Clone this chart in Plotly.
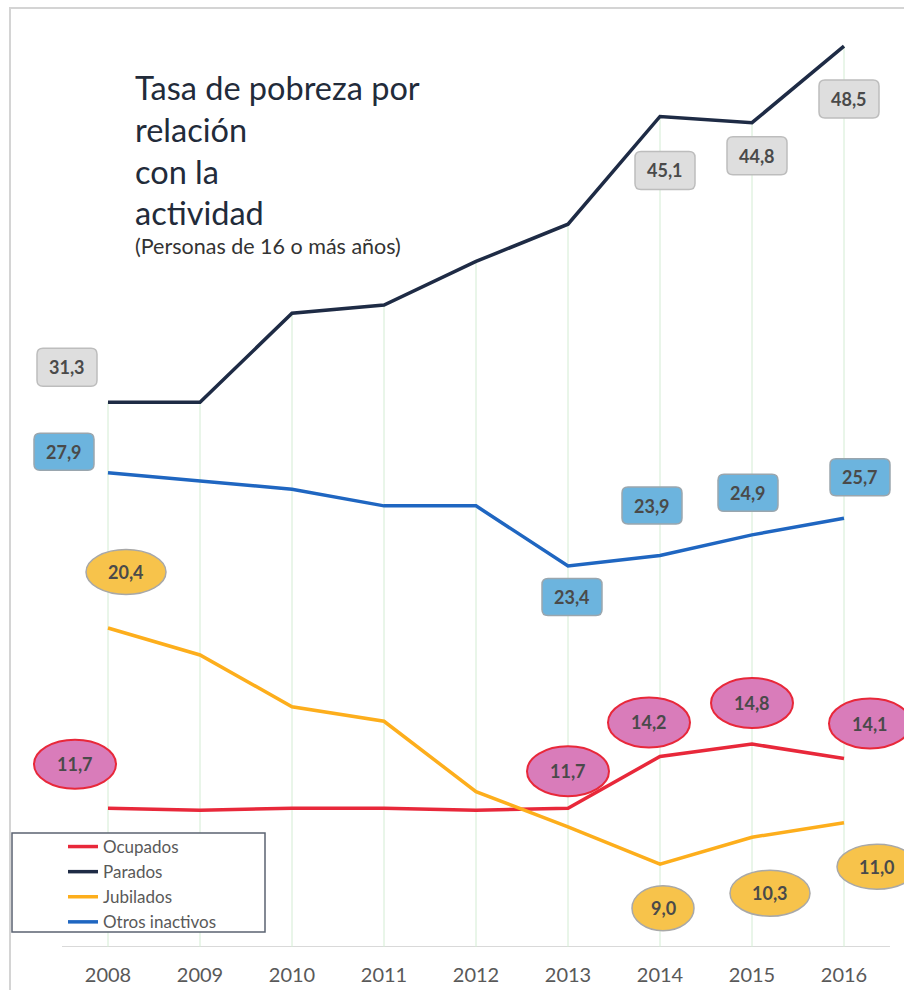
import plotly.graph_objects as go

# ---------------- data ----------------
years = [2008, 2009, 2010, 2011, 2012, 2013, 2014, 2015, 2016]
ocupados = [11.7, 11.6, 11.7, 11.7, 11.6, 11.7, 14.2, 14.8, 14.1]
parados = [31.3, 31.3, 35.6, 36.0, 38.1, 39.9, 45.1, 44.8, 48.5]
jubilados = [20.4, 19.1, 16.6, 15.9, 12.5, 10.8, 9.0, 10.3, 11.0]
otros = [27.9, 27.5, 27.1, 26.3, 26.3, 23.4, 23.9, 24.9, 25.7]
series_names = ["Ocupados", "Parados", "Jubilados", "Otros inactivos"]

title_lines = ["Tasa de pobreza por", "relación", "con la", "actividad"]
subtitle = "(Personas de 16 o más años)"

# ---------------- styles ----------------
W, H = 904, 990
MT, MB = 15, 43
Y_MIN, Y_MAX = 5, 50
plot_h = H - MT - MB
X_LO, X_HI = 2008 - 108 / 92, 2016 + 60 / 92   # full-width x axis

def py(pix):  # pixel row -> paper y
    return (H - MB - pix) / plot_h

def px(pix):  # pixel column -> paper x
    return pix / W

line_colors = ["#E8283A", "#1E2B45", "#FDAE1C", "#1F66C1"]
FONT = "Lato, 'Open Sans', sans-serif"

label_style = [
    ("ellipse", "#D97CBA", "#E8283A", 2),
    ("rbox", "#DEDEDE", "#BDBDBD", 1.5),
    ("ellipse", "#F7C34B", "#A8A8A8", 1.5),
    ("rbox", "#6CB4DE", "#9AA6AE", 1.5),
]
# label placement: index -> (dx, dy screen-down, w, h)
label_pos = [
    {0: (-33, -44, 82, 49), 5: (0, -37, 82, 50), 6: (-11, -34, 82, 50),
     7: (0, -41, 82, 50), 8: (26, -35, 82, 50)},
    {0: (-41, -35, 60, 38), 6: (5, 54, 60, 38), 7: (5, 33, 60, 38),
     8: (5, 53, 60, 38)},
    {0: (18, -56, 80, 45), 6: (3, 44, 62, 45), 7: (18, 56, 80, 46),
     8: (33, 44, 80, 45)},
    {0: (-44, -21, 60, 37), 5: (4, 31, 60, 37), 6: (-8, -50, 60, 37),
     7: (-4, -42, 60, 37), 8: (16, -41, 60, 37)},
]

all_series = [ocupados, parados, jubilados, otros]

fig = go.Figure()

# drop lines (vertical light green) from axis up to top series
gx, gy = [], []
for i, yr in enumerate(years):
    top = max(s[i] for s in all_series)
    gx += [yr, yr, None]
    gy += [Y_MIN, top, None]
fig.add_trace(go.Scatter(x=gx, y=gy, mode="lines",
                         line=dict(color="#D3ECD3", width=1),
                         showlegend=False, hoverinfo="skip"))

for name, vals, col in zip(series_names, all_series, line_colors):
    fig.add_trace(go.Scatter(x=years, y=vals, mode="lines", name=name,
                             line=dict(color=col, width=3.5)))

shapes = []
annotations = []

# bottom axis line
shapes.append(dict(type="line", xref="x", yref="y", x0=years[0] - 0.5,
                   x1=years[-1] + 0.5, y0=Y_MIN, y1=Y_MIN, layer="below",
                   line=dict(color="#D9D9D9", width=2)))

def rbox_path(cx, cy, w, h, r=6):
    x0, x1 = cx - w / 2, cx + w / 2
    y0, y1 = cy - h / 2, cy + h / 2
    return (f"M{x0 + r},{y0} L{x1 - r},{y0} Q{x1},{y0} {x1},{y0 + r} "
            f"L{x1},{y1 - r} Q{x1},{y1} {x1 - r},{y1} L{x0 + r},{y1} "
            f"Q{x0},{y1} {x0},{y1 - r} L{x0},{y0 + r} Q{x0},{y0} {x0 + r},{y0} Z")

for si, vals in enumerate(all_series):
    kind, fill, border, bw = label_style[si]
    for idx, (dx, dy, w, h) in label_pos[si].items():
        yr, v = years[idx], vals[idx]
        cy = -dy
        if kind == "ellipse":
            shapes.append(dict(type="circle", xref="x", yref="y",
                               xsizemode="pixel", ysizemode="pixel",
                               xanchor=yr, yanchor=v,
                               x0=dx - w / 2, x1=dx + w / 2,
                               y0=cy - h / 2, y1=cy + h / 2,
                               fillcolor=fill, line=dict(color=border, width=bw),
                               layer="above"))
        else:
            shapes.append(dict(type="path", xref="x", yref="y",
                               xsizemode="pixel", ysizemode="pixel",
                               xanchor=yr, yanchor=v,
                               path=rbox_path(dx, cy, w, h),
                               fillcolor=fill, line=dict(color=border, width=bw),
                               layer="above"))
        annotations.append(dict(x=yr, y=v, xref="x", yref="y",
                                text=f"{v:.1f}".replace(".", ","),
                                showarrow=False, xshift=dx, yshift=cy,
                                font=dict(family=FONT, size=18, color="#4A4A4A",
                                          weight="bold")))

# outer frame
shapes.append(dict(type="rect", xref="paper", yref="paper", layer="below",
                   x0=px(10), x1=px(1000), y0=py(1100), y1=py(8),
                   line=dict(color="#D4D4D4", width=2), fillcolor="rgba(0,0,0,0)"))

# legend frame
shapes.append(dict(type="rect", xref="paper", yref="paper", layer="above",
                   x0=px(12), x1=px(265), y0=py(932), y1=py(833),
                   line=dict(color="#5B6372", width=1.5), fillcolor="white"))

# title
for k, t in enumerate(title_lines):
    annotations.append(dict(x=px(133), y=py(87 + 42 * k), xref="paper", yref="paper",
                            xanchor="left", yanchor="middle", text=t, showarrow=False,
                            font=dict(family=FONT, size=32.5, color="#222B3A")))
annotations.append(dict(x=px(133), y=py(246), xref="paper", yref="paper",
                        xanchor="left", yanchor="middle", text=subtitle, showarrow=False,
                        font=dict(family=FONT, size=21.5, color="#333333")))

fig.update_layout(
    width=W, height=H,
    margin=dict(l=0, r=0, t=MT, b=MB),
    plot_bgcolor="white", paper_bgcolor="white",
    shapes=shapes, annotations=annotations,
    showlegend=True,
    legend=dict(x=px(63), y=py(829), xanchor="left", yanchor="top",
                bgcolor="rgba(0,0,0,0)", borderwidth=0,
                font=dict(family=FONT, size=17, color="#595959"),
                tracegroupgap=0),
    xaxis=dict(range=[X_LO, X_HI], tickvals=years,
               ticktext=[str(y) for y in years],
               showgrid=False, zeroline=False, showline=False,
               ticks="", ticklabelstandoff=14, automargin=False,
               tickfont=dict(family=FONT, size=20, color="#595959")),
    yaxis=dict(range=[Y_MIN, Y_MAX], visible=False, showgrid=False,
               zeroline=False, automargin=False),
)

fig.write_html("out.html", config={"displayModeBar": False},
               post_script="document.body.style.margin='0px';")
